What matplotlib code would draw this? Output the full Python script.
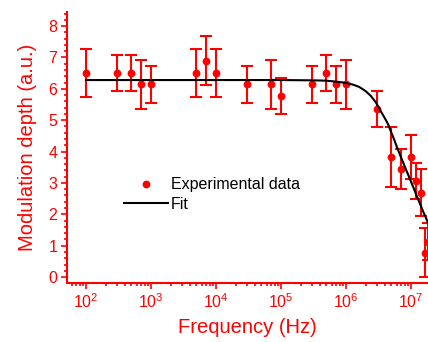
import numpy as np
import matplotlib
matplotlib.use("Agg")
import matplotlib.pyplot as plt
from matplotlib.ticker import LogLocator, MultipleLocator, NullFormatter

plt.rcParams['font.family'] = ['Liberation Sans', 'DejaVu Sans']
plt.rcParams['mathtext.default'] = 'regular'

# measured points (Hz, a.u.)
freq = [1e2, 3e2, 5e2, 7e2, 1e3, 5e3, 7e3, 1e4, 3e4, 7e4, 1e5, 3e5, 5e5,
        7e5, 1e6, 3e6, 5e6, 7e6, 1e7, 1.2e7, 1.45e7, 1.62e7, 1.85e7]
depth = [6.51, 6.51, 6.51, 6.14, 6.14, 6.51, 6.90, 6.51, 6.14, 6.14, 5.77,
         6.14, 6.51, 6.14, 6.14, 5.36, 3.83, 3.44, 3.83, 3.07, 2.69, 0.78, 1.13]
err = [0.77, 0.58, 0.58, 0.77, 0.58, 0.77, 0.77, 0.77, 0.58, 0.77, 0.58,
       0.58, 0.58, 0.58, 0.77, 0.58, 0.95, 0.64, 0.70, 0.57, 0.75, 0.77, 0.60]

# fit curve
fit_freq = [1e2, 1e5, 3.2e5, 5e5, 7e5, 1e6, 1.3e6, 1.6e6, 2e6, 2.4e6, 2.9e6,
            3.4e6, 4e6, 4.5e6, 5e6, 5.6e6, 6.2e6, 6.9e6, 7.6e6, 8.3e6, 9.2e6,
            1.01e7, 1.12e7, 1.23e7, 1.37e7, 1.51e7, 1.68e7, 1.86e7]
fit_depth = [6.28, 6.28, 6.27, 6.26, 6.23, 6.19, 6.13, 6.06, 5.93, 5.78, 5.56,
             5.30, 5.05, 4.85, 4.60, 4.35, 4.10, 3.86, 3.65, 3.45, 3.23,
             3.02, 2.80, 2.58, 2.35, 2.13, 1.91, 1.70]

red = '#ff0000'

fig = plt.figure(figsize=(4.28, 3.42), dpi=100)
ax = fig.add_axes([0.1565, 0.1734, 0.8435, 0.7916])

ax.errorbar(freq, depth, yerr=err, fmt='none', ecolor=red, elinewidth=1.5,
            capsize=4, capthick=1.5, zorder=2)
ax.plot(freq, depth, 'o', color=red, markersize=4.6, label='Experimental data', zorder=3)
ax.plot(fit_freq, fit_depth, color='black', lw=1.5, label='Fit', zorder=4)

ax.set_xscale('log')
ax.set_xlim(51, 1.83e7)
ax.set_ylim(-0.18, 8.45)

ax.xaxis.set_major_locator(LogLocator(base=10, numticks=20))
ax.xaxis.set_minor_locator(LogLocator(base=10, subs=np.arange(2, 10), numticks=20))
ax.xaxis.set_minor_formatter(NullFormatter())
ax.yaxis.set_major_locator(MultipleLocator(1))
ax.yaxis.set_minor_locator(MultipleLocator(0.2))

for s in ['top', 'right']:
    ax.spines[s].set_visible(False)
for s in ['left', 'bottom']:
    ax.spines[s].set_color(red)
    ax.spines[s].set_linewidth(1.5)

ax.tick_params(which='both', direction='out', colors=red, labelcolor=red,
               width=1.2, labelsize=11.5)
ax.tick_params(which='major', length=4, pad=3)
ax.tick_params(which='minor', length=2.5)

ax.set_xlabel('Frequency (Hz)', color=red, fontsize=14.5, labelpad=5)
ax.set_ylabel('Modulation depth (a.u.)', color=red, fontsize=14.5, labelpad=8)

ax.legend(loc='upper left', bbox_to_anchor=(0.272, 0.505), bbox_transform=fig.transFigure,
          frameon=False, fontsize=11.5, handlelength=2.7, handletextpad=0.22,
          labelspacing=0.3, borderpad=0, numpoints=1)

fig.savefig('out.png', dpi=100)
